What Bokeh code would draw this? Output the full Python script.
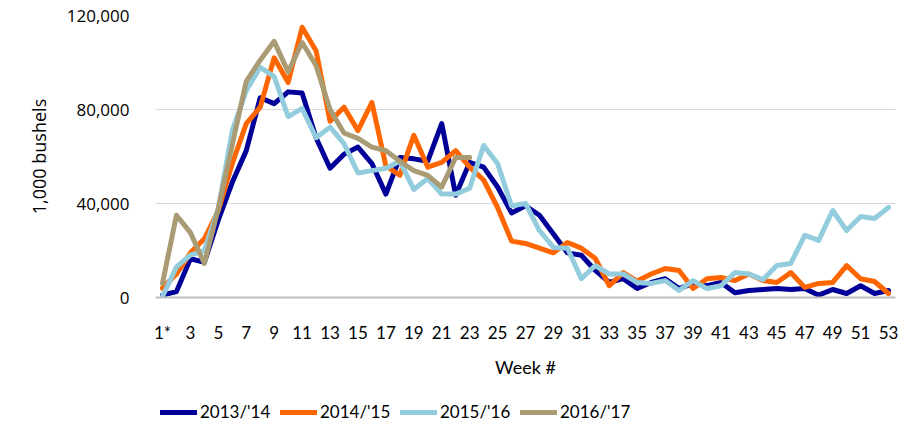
from bokeh.plotting import figure
from bokeh.layouts import column
from bokeh.models import Range1d, FixedTicker, NumeralTickFormatter, Legend, LegendItem
from bokeh.embed import file_html
from bokeh.resources import INLINE

weeks = list(range(1, 54))
x_ticks = list(range(1, 54, 2))
x_tick_labels = ["1*", "3", "5", "7", "9", "11", "13", "15", "17", "19", "21", "23", "25", "27",
                 "29", "31", "33", "35", "37", "39", "41", "43", "45", "47", "49", "51", "53"]
y_ticks = [0, 40000, 80000, 120000]

s2013 = [1000, 2500, 16500, 15000, 33000, 49000, 62500, 85000, 82500, 87500, 87000, 68000, 55000, 61000,
         64000, 57000, 44000, 59600, 59000, 58000, 74000, 43500, 57500, 55500, 47000, 36000, 39000, 35000,
         27000, 19000, 18000, 11500, 6400, 8000, 3800, 6400, 8000, 3800, 6000, 5000, 6400, 2000, 3000, 3400,
         3800, 3400, 3800, 1000, 3400, 1700, 5000, 1700, 3000]
s2014 = [4000, 10000, 19000, 25000, 37000, 57000, 74000, 81000, 102000, 91500, 115000, 105000, 75000, 81000,
         71000, 83000, 56000, 52000, 69000, 55500, 57500, 62500, 55500, 50000, 38300, 24000, 23000, 21000,
         19000, 23400, 21000, 16600, 5000, 10600, 7000, 10000, 12300, 11500, 3800, 8000, 8500, 7200, 10000, 7200,
         6400, 10600, 4300, 6000, 6400, 13600, 8000, 6800, 1700]
s2015 = [500, 13000, 18000, 20000, 38000, 71000, 88000, 98000, 94000, 77000, 80500, 68000, 72500, 65500,
         53000, 54000, 55000, 58000, 46000, 50600, 44000, 44000, 46500, 64700, 57000, 39000, 40000, 28500,
         21300, 21000, 8000, 13600, 10000, 10000, 6400, 6000, 7200, 3000, 7200, 3800, 5000, 10600, 10000, 7600,
         13600, 14500, 26400, 24300, 37000, 28500, 34500, 33600, 38300]
s2016 = [6000, 35000, 27600, 14500, 38000, 65000, 92000, 101000, 109000, 96000, 108500, 98700, 80000, 70000,
         67700, 64000, 62500, 58000, 54000, 52000, 47000, 59600, 59600]

series_names = ["2013/'14", "2014/'15", "2015/'16", "2016/'17"]
series_values = [s2013, s2014, s2015, s2016]
colors = ["#000099", "#FF6600", "#93CDDD", "#A99B73"]

FONT = "Lato"
FONT_Y = "Open Sans"
TXT = "#000000"
LW = 5

p = figure(width=909, height=380, output_backend="svg", toolbar_location=None,
           x_range=Range1d(0.5, 53.5), y_range=Range1d(0, 120000),
           min_border_left=155, min_border_right=14, min_border_top=15, min_border_bottom=83)
p.outline_line_color = None
p.background_fill_color = "white"
p.border_fill_color = "white"

for name, vals, c in zip(series_names, series_values, colors):
    p.line(weeks[:len(vals)], vals, line_color=c, line_width=LW,
           line_join="round", line_cap="round")

# grid
p.xgrid.visible = False
p.ygrid.grid_line_color = "#d9d9d9"
p.ygrid.grid_line_width = 1
p.yaxis.ticker = FixedTicker(ticks=y_ticks)
p.yaxis.formatter = NumeralTickFormatter(format="0,0")

# axes
p.xaxis.ticker = FixedTicker(ticks=x_ticks)
p.xaxis.major_label_overrides = {t: lab for t, lab in zip(x_ticks, x_tick_labels)}
p.xaxis.axis_line_color = "#bfbfbf"
p.xaxis.axis_line_width = 2
p.xaxis.major_tick_line_color = None
p.xaxis.minor_tick_line_color = None
p.xaxis.major_label_standoff = 18
p.xaxis.axis_label = "Week #"
p.xaxis.axis_label_standoff = 10
p.xaxis.major_label_text_font = FONT
p.xaxis.major_label_text_font_size = "17px"
p.xaxis.major_label_text_color = TXT
p.xaxis.axis_label_text_font = FONT
p.xaxis.axis_label_text_font_size = "18px"
p.xaxis.axis_label_text_font_style = "normal"
p.xaxis.axis_label_text_color = TXT

p.yaxis.axis_line_color = None
p.yaxis.major_tick_line_color = None
p.yaxis.minor_tick_line_color = None
p.yaxis.major_label_standoff = 20
p.yaxis.axis_label = "1,000 bushels"
p.yaxis.axis_label_standoff = 13
p.yaxis.major_label_text_font = FONT_Y
p.yaxis.major_label_text_font_size = "17px"
p.yaxis.major_label_text_color = TXT
p.yaxis.axis_label_text_font = FONT_Y
p.yaxis.axis_label_text_font_size = "18px"
p.yaxis.axis_label_text_font_style = "normal"
p.yaxis.axis_label_text_color = TXT

# legend strip below the chart (its series lie outside its visible range; only the legend shows)
pl = figure(width=909, height=52, output_backend="svg", toolbar_location=None,
            x_range=Range1d(0.5, 53.5), y_range=Range1d(-3, -2),
            min_border_left=0, min_border_right=0, min_border_top=0, min_border_bottom=0)
pl.axis.visible = False
pl.grid.visible = False
pl.outline_line_color = None
pl.border_fill_color = "white"
items = []
for name, vals, c in zip(series_names, series_values, colors):
    r = pl.line(weeks[:len(vals)], vals, line_color=c, line_width=LW, line_cap="round")
    items.append(LegendItem(label=name, renderers=[r]))

legend = Legend(items=items, orientation="horizontal", location=(5, 10),
                padding=0, margin=0, spacing=0, label_width=80, label_standoff=3,
                glyph_width=37, glyph_height=20, label_height=20,
                border_line_color=None, background_fill_alpha=0,
                label_text_font=FONT, label_text_font_size="17px", label_text_color=TXT)
pl.add_layout(legend, "center")

layout = column(p, pl, spacing=0)
open("out.html", "w").write(file_html(layout, INLINE))
